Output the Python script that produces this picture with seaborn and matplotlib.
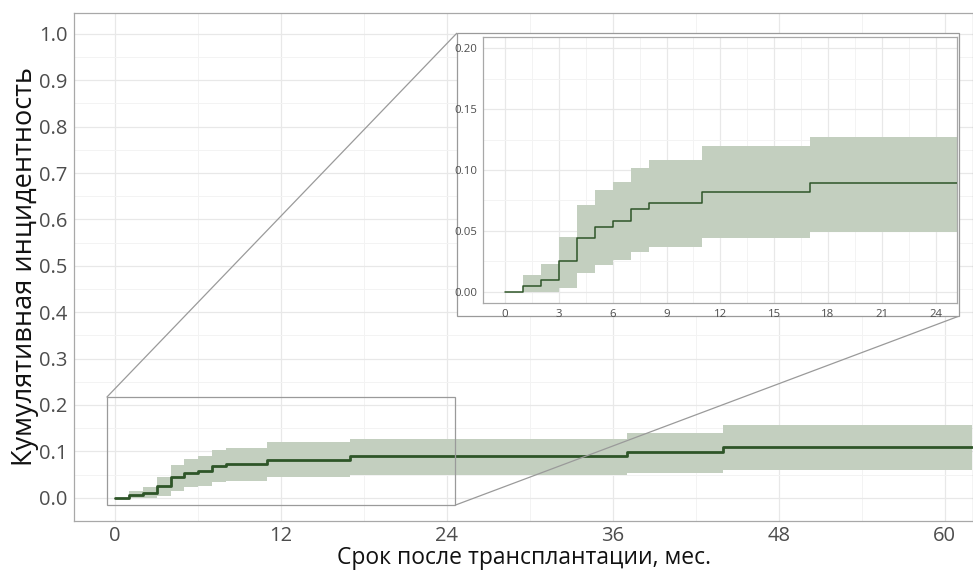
import numpy as np
import pandas as pd
import matplotlib
matplotlib.use("Agg")
import matplotlib.pyplot as plt
import seaborn as sns
from matplotlib.patches import Rectangle, ConnectionPatch
from matplotlib.ticker import MultipleLocator

# ---- data ----
time_months = [0, 1, 2, 3, 4, 5, 6, 7, 8, 11, 17, 37, 44, 62]
cum_incidence = [0.000, 0.005, 0.010, 0.025, 0.044, 0.053, 0.058, 0.068, 0.073, 0.082, 0.089, 0.098, 0.110, 0.110]
ci_lower = [0.000, 0.000, 0.000, 0.003, 0.015, 0.022, 0.026, 0.033, 0.037, 0.044, 0.049, 0.054, 0.059, 0.059]
ci_upper = [0.000, 0.014, 0.023, 0.045, 0.071, 0.084, 0.090, 0.102, 0.108, 0.120, 0.127, 0.140, 0.157, 0.157]

main_xticks = [0, 12, 24, 36, 48, 60]
main_yticks = [0.0, 0.1, 0.2, 0.3, 0.4, 0.5, 0.6, 0.7, 0.8, 0.9, 1.0]
inset_xticks = [0, 3, 6, 9, 12, 15, 18, 21, 24]
inset_yticks = [0.00, 0.05, 0.10, 0.15, 0.20]

xlabel = "Срок после трансплантации, мес."
ylabel = "Кумулятивная инцидентность"

df = pd.DataFrame({"t": time_months, "ci": cum_incidence, "lo": ci_lower, "hi": ci_upper})

# ---- style ----
sns.set_theme(style="white")
plt.rcParams["font.family"] = ["Open Sans", "DejaVu Sans"]

LINE = "#2e5528"
BAND = "#c3cfbf"
SPINE = "#a8a8a8"
GRID_MAJ = "#e8e8e8"
GRID_MIN = "#f3f3f3"
TICKC = "#4d4d4d"

W, H = 973, 570
fig = plt.figure(figsize=(W / 100, H / 100), dpi=100)

def px_axes(l, t, r, b):
    return [l / W, 1 - b / H, (r - l) / W, (b - t) / H]

def style_axes(ax, fs, ticklen):
    for s in ax.spines.values():
        s.set_color(SPINE)
        s.set_linewidth(0.9)
    ax.grid(True, which="major", color=GRID_MAJ, linewidth=0.9)
    ax.grid(True, which="minor", color=GRID_MIN, linewidth=0.7)
    ax.set_axisbelow(True)
    ax.tick_params(which="major", length=ticklen, width=0.7, color="#999999",
                   labelsize=fs, labelcolor=TICKC, pad=2)
    ax.tick_params(which="minor", length=0)

def draw_curve(ax, lw):
    ax.fill_between(df["t"], df["lo"], df["hi"], step="post", color=BAND,
                    linewidth=0, zorder=2)
    sns.lineplot(data=df, x="t", y="ci", ax=ax, estimator=None, color=LINE,
                 linewidth=lw, drawstyle="steps-post", zorder=3)

# ---- main axes ----
ax = fig.add_axes(px_axes(74.3, 13, 973, 520.7))
draw_curve(ax, 2.0)
ax.set_xlim(-2.96, 62.05)
ax.set_ylim(-0.0496, 1.045)
ax.set_xticks(main_xticks)
ax.set_yticks(main_yticks)
ax.set_yticklabels([f"{v:.1f}" for v in main_yticks])
ax.xaxis.set_minor_locator(MultipleLocator(6))
ax.yaxis.set_minor_locator(MultipleLocator(0.05))
style_axes(ax, 14.5, 3)
ax.tick_params(axis="x", pad=0.5)
ax.set_xlabel(xlabel, fontsize=16.5, color="#111111", labelpad=0)
ax.set_ylabel(ylabel, fontsize=19.5, color="#111111", labelpad=0)

# zoom rectangle in the main panel
rx0, rx1, ry0, ry1 = -0.6, 24.6, -0.016, 0.217
ax.add_patch(Rectangle((rx0, ry0), rx1 - rx0, ry1 - ry0, fill=False,
                       edgecolor="#9a9a9a", linewidth=0.9, zorder=4))

# inset frame (figure coords)
fx0, fy0, fx1, fy1 = 456.7 / W, 1 - 316 / H, 959.3 / W, 1 - 33.3 / H
frame = Rectangle((fx0, fy0), fx1 - fx0, fy1 - fy0, transform=fig.transFigure,
                  facecolor="white", edgecolor="#9a9a9a", linewidth=0.9, zorder=5)
fig.add_artist(frame)

for (xa, ya), (xb, yb) in [((rx0, ry1), (fx0, fy1)), ((rx1, ry0), (fx1, fy0))]:
    cp = ConnectionPatch(xyA=(xa, ya), coordsA=ax.transData,
                         xyB=(xb, yb), coordsB=fig.transFigure,
                         color="#9a9a9a", linewidth=0.9, zorder=4.5)
    fig.add_artist(cp)

# ---- inset axes ----
axi = fig.add_axes(px_axes(483.3, 36.7, 957.3, 303.3), zorder=6)
draw_curve(axi, 1.1)
axi.set_xlim(-1.21, 25.2)
axi.set_ylim(-0.0095, 0.2096)
axi.set_xticks(inset_xticks)
axi.set_yticks(inset_yticks)
axi.set_yticklabels([f"{v:.2f}" for v in inset_yticks])
axi.xaxis.set_minor_locator(MultipleLocator(1.5))
axi.yaxis.set_minor_locator(MultipleLocator(0.025))
style_axes(axi, 8.2, 2)
axi.set_xlabel("")
axi.set_ylabel("")

fig.savefig("out.png", dpi=100)
